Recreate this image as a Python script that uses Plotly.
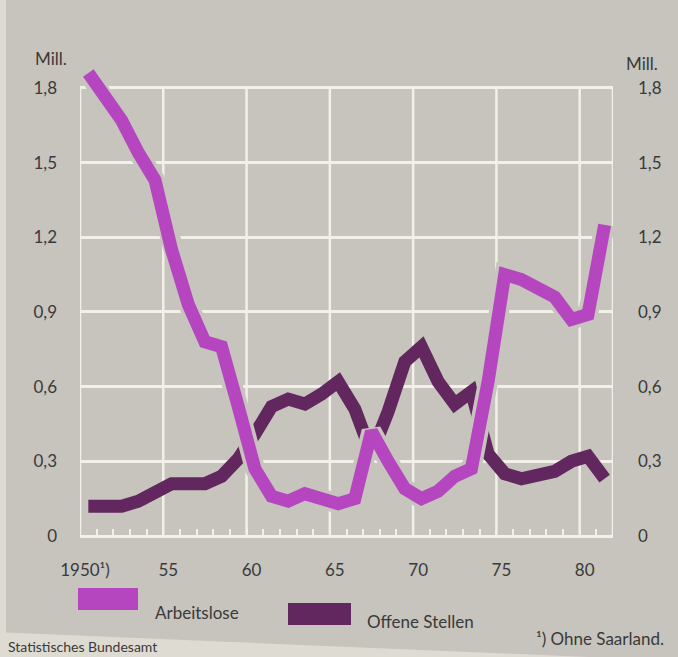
import plotly.graph_objects as go

# ---- data (millions) ----
years = list(range(1950, 1982))
arbeitslose = [1.86, 1.76, 1.67, 1.54, 1.43, 1.15, 0.93, 0.78, 0.76, 0.52,
               0.27, 0.16, 0.14, 0.17, 0.15, 0.13, 0.15, 0.42, 0.30, 0.19,
               0.15, 0.18, 0.24, 0.27, 0.62, 1.05, 1.03, 1.00, 0.96, 0.87,
               0.89, 1.25]
offene_stellen = [0.12, 0.12, 0.12, 0.14, 0.18, 0.21, 0.21, 0.21, 0.24, 0.31,
                  0.41, 0.52, 0.55, 0.53, 0.57, 0.62, 0.51, 0.33, 0.50, 0.70,
                  0.76, 0.62, 0.53, 0.58, 0.33, 0.25, 0.23, 0.24, 0.26, 0.30,
                  0.32, 0.23]
series_names = ["Arbeitslose", "Offene Stellen"]
y_ticks = [0, 0.3, 0.6, 0.9, 1.2, 1.5, 1.8]
y_ticklabels = ["0", "0,3", "0,6", "0,9", "1,2", "1,5", "1,8"]
x_ticks = [1950, 1955, 1960, 1965, 1970, 1975, 1980]
x_ticklabels = ["1950¹)", "55", "60", "65", "70", "75", "80"]
x_end = 1982
footnote = "¹) Ohne Saarland."
unit = "Mill."
source = "Statistisches Bundesamt"

# ---- style ----
BG = "#C6C4BD"
PAPER = "#DEDBD2"
GRID = "#F2F0E8"
MAGENTA = "#B546C0"
DARK = "#62275F"
TEXT = "#3a3a3a"
FONT = "Lato"

W, H = 678, 657
L, R, T, B = 80, 65, 63, 121
PW, PH = W - L - R, H - T - B


def px(x):
    return (x - L) / PW


def py(y):
    return (H - B - y) / PH


x_mid = [y + 0.5 for y in years]  # values plotted at mid-year

fig = go.Figure()
fig.add_trace(go.Scatter(x=x_mid, y=offene_stellen, mode="lines", yaxis="y2",
                         name=series_names[1], showlegend=False,
                         line=dict(color=DARK, width=13)))
fig.add_trace(go.Scatter(x=x_mid, y=arbeitslose, mode="lines", yaxis="y2",
                         showlegend=False, hoverinfo="skip",
                         line=dict(color=BG, width=20)))
fig.add_trace(go.Scatter(x=x_mid, y=arbeitslose, mode="lines", yaxis="y2",
                         name=series_names[0], showlegend=False,
                         line=dict(color=MAGENTA, width=13)))

shapes = []
# vertical grid lines / frame from 0 to top tick
for xv in x_ticks + [x_end]:
    shapes.append(dict(type="line", xref="x", yref="y", x0=xv, x1=xv,
                       y0=y_ticks[0], y1=y_ticks[-1], layer="below",
                       line=dict(color=GRID, width=2.5)))
# paper edges
shapes.append(dict(type="rect", xref="paper", yref="paper", x0=px(-5), x1=px(6),
                   y0=py(H + 5), y1=py(-5), fillcolor=PAPER, line=dict(width=0), layer="below"))
shapes.append(dict(type="path", xref="paper", yref="paper",
                   path=f"M {px(-5)} {py(632)} L {px(W + 5)} {py(661)} L {px(W + 5)} {py(H + 5)} L {px(-5)} {py(H + 5)} Z",
                   fillcolor=PAPER, line=dict(width=0), layer="below"))
# legend swatches
shapes.append(dict(type="rect", xref="paper", yref="paper", x0=px(78), x1=px(138),
                   y0=py(610), y1=py(588), fillcolor=MAGENTA, line=dict(width=0)))
shapes.append(dict(type="rect", xref="paper", yref="paper", x0=px(288), x1=px(351),
                   y0=py(625), y1=py(603), fillcolor=DARK, line=dict(width=0)))

tf = dict(family=FONT, size=17, color=TEXT)
annotations = [
    dict(text=unit, xref="paper", yref="paper", x=px(33), y=py(58),
         xanchor="left", yanchor="middle", showarrow=False, font=tf),
    dict(text=unit, xref="paper", yref="paper", x=px(624), y=py(63),
         xanchor="left", yanchor="middle", showarrow=False, font=tf),
    dict(text=series_names[0], xref="paper", yref="paper", x=px(153), y=py(612),
         xanchor="left", yanchor="middle", showarrow=False, font=tf),
    dict(text=series_names[1], xref="paper", yref="paper", x=px(365), y=py(621),
         xanchor="left", yanchor="middle", showarrow=False, font=tf),
    dict(text=footnote, xref="paper", yref="paper", x=px(666), y=py(638),
         xanchor="right", yanchor="middle", showarrow=False, font=tf),
    dict(text=source, xref="paper", yref="paper", x=px(6), y=py(646),
         xanchor="left", yanchor="middle", showarrow=False,
         font=dict(family=FONT, size=14, color=TEXT)),
]

yax = dict(range=[0, 1.9], tickvals=y_ticks, ticktext=y_ticklabels,
           showline=False, ticks="", tickfont=tf, fixedrange=True)

fig.update_layout(
    width=W, height=H, autosize=False,
    margin=dict(l=L, r=R, t=T, b=B, pad=0),
    paper_bgcolor=BG, plot_bgcolor=BG,
    font=tf,
    showlegend=False,
    xaxis=dict(range=[x_ticks[0], x_end], tickvals=x_ticks, ticktext=x_ticklabels,
               showgrid=False, zeroline=False, showline=False,
               ticks="inside", ticklen=7, tickwidth=2, tickcolor=GRID,
               minor=dict(dtick=1, tick0=x_ticks[0], ticks="inside", ticklen=7,
                          tickwidth=2, tickcolor=GRID, showgrid=False),
               ticklabelstandoff=22, ticklabelshift=5,
               tickfont=tf, fixedrange=True),
    yaxis=dict(**yax, showgrid=True, gridcolor=GRID, gridwidth=2.5,
               zeroline=True, zerolinecolor=GRID, zerolinewidth=2.5,
               ticklabelstandoff=22),
    yaxis2=dict(**yax, overlaying="y", side="right", showgrid=False, zeroline=False,
                ticklabelstandoff=24),
    shapes=shapes,
    annotations=annotations,
)

fig.write_html("out.html", config={"displayModeBar": False},
               post_script="document.body.style.margin='0';document.body.style.overflow='hidden';")
